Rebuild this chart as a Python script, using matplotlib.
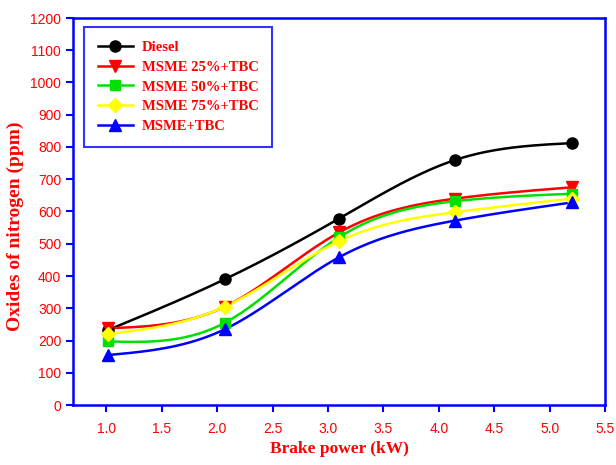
import numpy as np
import matplotlib
matplotlib.use("Agg")
import matplotlib.pyplot as plt

# ---- data ----
brake_power = [1.02, 2.07, 3.10, 4.15, 5.20]
diesel = [233, 390, 578, 760, 812]
msme25 = [238, 305, 535, 640, 675]
msme50 = [197, 255, 520, 632, 655]
msme75 = [220, 305, 508, 598, 640]
msme_tbc = [155, 235, 458, 572, 628]
labels = ["Diesel", "MSME 25%+TBC", "MSME 50%+TBC", "MSME 75%+TBC", "MSME+TBC"]
x_ticks = [1.0, 1.5, 2.0, 2.5, 3.0, 3.5, 4.0, 4.5, 5.0, 5.5]
y_ticks = list(range(0, 1201, 100))


def natural_spline(x, y, n=200):
    x = np.asarray(x, float)
    y = np.asarray(y, float)
    k = len(x)
    h = np.diff(x)
    A = np.zeros((k, k))
    b = np.zeros(k)
    A[0, 0] = 1
    A[-1, -1] = 1
    for i in range(1, k - 1):
        A[i, i - 1] = h[i - 1]
        A[i, i] = 2 * (h[i - 1] + h[i])
        A[i, i + 1] = h[i]
        b[i] = 3 * ((y[i + 1] - y[i]) / h[i] - (y[i] - y[i - 1]) / h[i - 1])
    c = np.linalg.solve(A, b)
    xs = np.linspace(x[0], x[-1], n)
    ys = np.empty_like(xs)
    for j, xv in enumerate(xs):
        i = min(np.searchsorted(x, xv, side="right") - 1, k - 2)
        i = max(i, 0)
        bb = (y[i + 1] - y[i]) / h[i] - h[i] * (2 * c[i] + c[i + 1]) / 3
        d = (c[i + 1] - c[i]) / (3 * h[i])
        t = xv - x[i]
        ys[j] = y[i] + bb * t + c[i] * t ** 2 + d * t ** 3
    return xs, ys


fig = plt.figure(figsize=(6.16, 4.65), dpi=100)
ax = fig.add_axes([73 / 616, 1 - 405 / 465, 532 / 616, 387 / 465])

series = [diesel, msme25, msme50, msme75, msme_tbc]
colors = ["black", "#ff0000", "#00e000", "#ffff00", "#0000ff"]
markers = ["o", "v", "s", "D", "^"]
msizes = [8, 8, 7.5, 7, 8]

for vals, col, mk, ms, lab in zip(series, colors, markers, msizes, labels):
    xs, ys = natural_spline(brake_power, vals)
    ax.plot(xs, ys, color=col, lw=1.8, zorder=2)
    ax.plot(brake_power, vals, linestyle="none", marker=mk, ms=ms,
            color=col, zorder=3)
    ax.plot([], [], color=col, lw=1.8, marker=mk, ms=ms, label=lab)

ax.set_xlim(0.7, 5.5)
ax.set_ylim(0, 1200)
ax.set_xticks(x_ticks)
ax.set_yticks(y_ticks)
ax.set_xticklabels([f"{v:.1f}" for v in x_ticks])

for s in ax.spines.values():
    s.set_color("#0000ff")
    s.set_linewidth(1.8)
ax.tick_params(direction="out", length=5, width=1.5, color="#0000ff",
               labelcolor="#ff0000", labelsize=10, top=False, right=False)
for t in ax.get_xticklabels() + ax.get_yticklabels():
    t.set_fontfamily("Liberation Sans")
ax.tick_params(axis="x", pad=7)

ax.set_xlabel("Brake power (kW)", fontsize=12.5, fontweight="bold",
              color="#ff0000", family="Liberation Serif", labelpad=4)
ax.set_ylabel("Oxides of nitrogen (ppm)", fontsize=14, fontweight="bold",
              color="#ff0000", family="Liberation Serif")
ax.yaxis.set_label_coords(-0.092, 0.4625)

leg = ax.legend(loc="upper left", bbox_to_anchor=(0.0207, 0.977),
                borderaxespad=0, frameon=True,
                fancybox=False, edgecolor="#0000ff", handlelength=2.4,
                labelspacing=0.45, borderpad=0.95, handletextpad=0.6,
                prop={"family": "Liberation Serif", "weight": "bold", "size": 10.5})
leg.get_frame().set_linewidth(1.5)
for t in leg.get_texts():
    t.set_color("#ff0000")

fig.savefig("out.png", dpi=100)
